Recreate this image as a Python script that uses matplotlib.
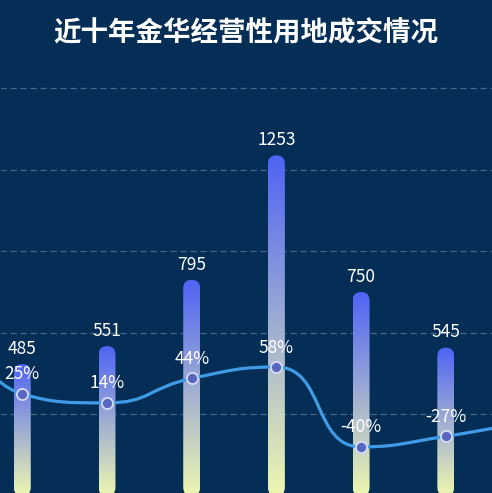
import numpy as np
import matplotlib
matplotlib.use("Agg")
import matplotlib.pyplot as plt
from matplotlib.patches import FancyBboxPatch, PathPatch
from matplotlib.path import Path

plt.rcParams['font.family'] = ['Noto Sans CJK SC', 'DejaVu Sans']

title = "近十年金华经营性用地成交情况"

# visible bars (area) and growth rate (%)
bar_pos = [1, 2, 3, 4, 5, 6]
bar_vals = [485, 551, 795, 1253, 750, 545]
rate_vals = [25, 14, 44, 58, -40, -27]

# the rate line runs past both edges of the crop; neighbours are estimates
line_pos = [0, 1, 2, 3, 4, 5, 6, 7]
line_vals = [170, 25, 14, 44, 58, -40, -27, -8]

bg = "#042e55"
top_col = np.array([79, 99, 245]) / 255
bot_col = np.array([238, 247, 176]) / 255
line_col = "#3f9be6"

W, H = 492, 493
fig = plt.figure(figsize=(W / 100, H / 100), dpi=100)
fig.patch.set_facecolor(bg)
ax = fig.add_axes([0, 0, 1, 1])
ax.set_facecolor(bg)

x_lim = (1 - 22.3 / 84.7, 1 + (W - 22.3) / 84.7)
y_lim = ((495.8 - H) / 0.2717, 495.8 / 0.2717)
ax.set_xlim(*x_lim)
ax.set_ylim(*y_lim)

ax.set_yticks([300, 600, 900, 1200, 1500])
ax.yaxis.grid(True, color="#42678a", lw=0.9, ls=(0, (5, 3)))
ax.set_axisbelow(True)
ax.tick_params(left=False, bottom=False, labelleft=False, labelbottom=False)
ax.set_xticks([])
for s in ax.spines.values():
    s.set_visible(False)

# bars, filled with a vertical gradient and rounded ends
bars = ax.bar(bar_pos, bar_vals, width=0.2, color="none", zorder=2)
asp = ((y_lim[1] - y_lim[0]) / H) / ((x_lim[1] - x_lim[0]) / W)
grad = np.linspace(0, 1, 256)[:, None, None]
img = bot_col * (1 - grad) + top_col * grad
for r in bars:
    x0, y0 = r.get_x(), r.get_y()
    w, h = r.get_width(), r.get_height()
    clip = FancyBboxPatch((x0, y0), w, h,
                          boxstyle=f"round,pad=0,rounding_size={w / 2}",
                          mutation_aspect=asp, transform=ax.transData)
    im = ax.imshow(img, extent=[x0, x0 + w, y0, y0 + h], origin="lower",
                   aspect="auto", zorder=2, interpolation="bilinear")
    im.set_clip_path(clip)
    ax.annotate(str(int(h)), (x0 + w / 2, y0 + h), xytext=(0, 11),
                textcoords="offset points", ha="center", va="center",
                color="white", fontsize=12.5, zorder=5)
ax.set_xlim(*x_lim)
ax.set_ylim(*y_lim)

# rate line on a second scale
ax2 = ax.twinx()
ax2.set_ylim((414.3 - H) / 0.815, 414.3 / 0.815)
ax2.set_xlim(*x_lim)
ax2.axis("off")


def smooth_curve(pts, smooth=0.5):
    # same control point rule as an echarts smooth line
    verts = [pts[0]]
    codes = [Path.MOVETO]
    cp0 = pts[0].copy()
    n = len(pts)
    for k in range(1, n):
        px, py = pts[k - 1]
        x, y = pts[k]
        if k + 1 < n:
            nx_, ny_ = pts[k + 1]
            vx, vy = nx_ - px, ny_ - py
            lp = np.hypot(x - px, y - py)
            ln = np.hypot(nx_ - x, ny_ - y)
            ratio = ln / (ln + lp)
            ncx = x + vx * smooth * ratio
            ncy = y + vy * smooth * ratio
            ncx = max(min(ncx, max(nx_, x)), min(nx_, x))
            ncy = max(min(ncy, max(ny_, y)), min(ny_, y))
            vx, vy = ncx - x, ncy - y
            c1x = x - vx * lp / ln
            c1y = y - vy * lp / ln
            c1x = max(min(c1x, max(px, x)), min(px, x))
            c1y = max(min(c1y, max(py, y)), min(py, y))
            vx, vy = x - c1x, y - c1y
            ncx = x + vx * ln / lp
            ncy = y + vy * ln / lp
        else:
            c1x, c1y = x, y
            ncx, ncy = x, y
        verts += [tuple(cp0), (c1x, c1y), (x, y)]
        codes += [Path.CURVE4] * 3
        cp0 = np.array([ncx, ncy])
    return Path(verts, codes)


disp = ax2.transData.transform(np.column_stack([line_pos, line_vals]))
path_disp = smooth_curve(disp)
path_data = ax2.transData.inverted().transform_path(path_disp)
ax2.add_patch(PathPatch(path_data, fc="none", ec=line_col, lw=2.3, zorder=3))

ax2.plot(bar_pos, rate_vals, "o", ms=8, mfc="#5766be", mec="#d5dcf5",
         mew=1.3, zorder=4)
for xp, v in zip(bar_pos, rate_vals):
    ax2.annotate(f"{v}%", (xp, v), xytext=(0, 14), textcoords="offset points",
                 ha="center", va="center", color="white", fontsize=12.5,
                 zorder=5)

fig.text(0.5, 1 - 33 / H, title, ha="center", va="center", color="white",
         fontsize=19.8, fontweight="bold")

fig.savefig("out.png", dpi=100, facecolor=bg)
